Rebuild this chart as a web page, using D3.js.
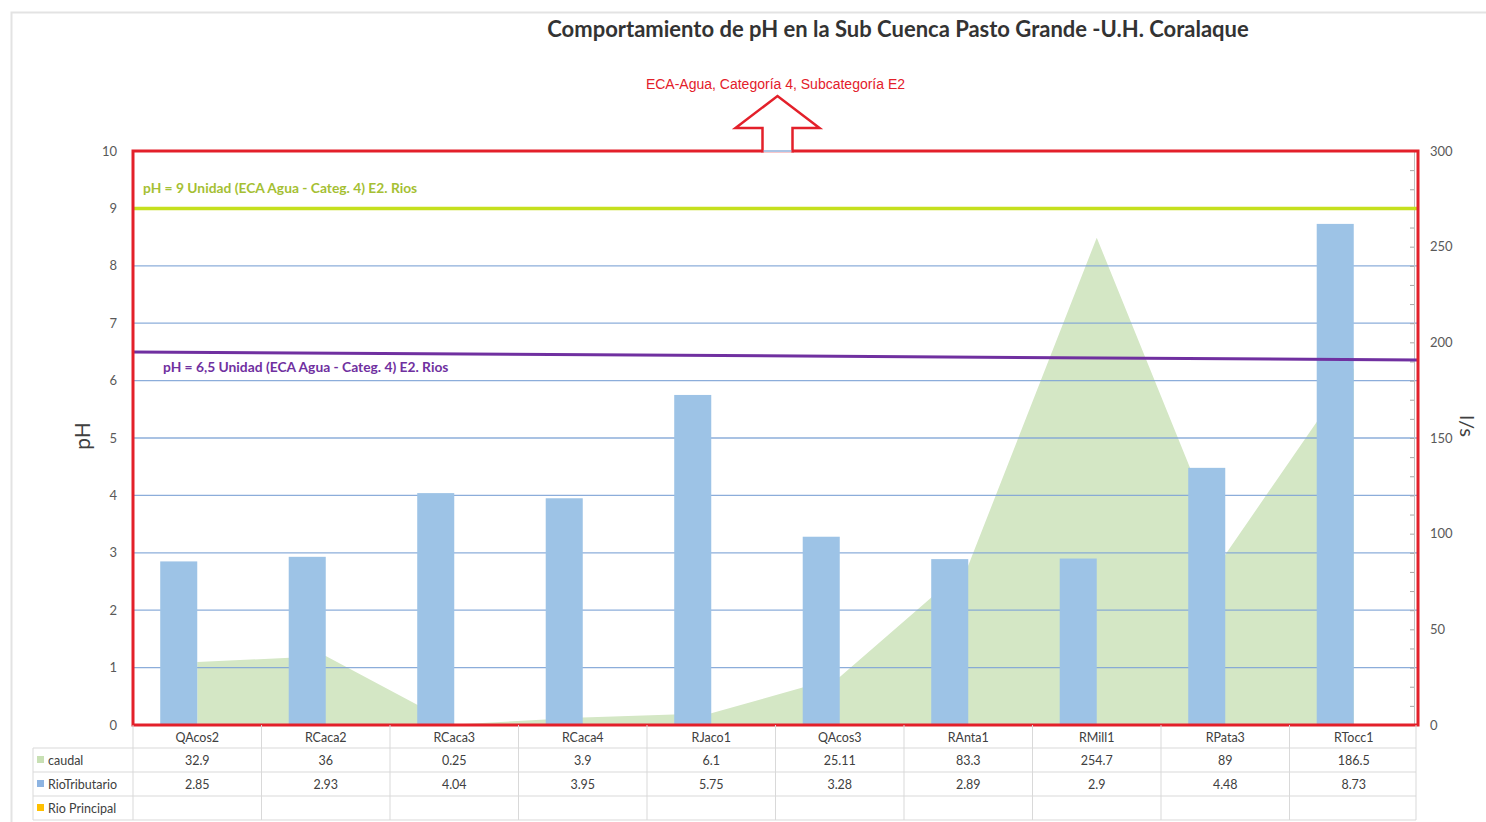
<!DOCTYPE html>
<meta charset="utf-8">
<head>
    <title>pH Sub Cuenca Pasto Grande</title>
    <script src="https://d3js.org/d3.v7.min.js"></script>
    <style>
        body { margin: 0; background: #ffffff; }
        text { font-family: Lato, "Open Sans", sans-serif; }
    </style>
</head>
<body>
<div id="my_dataviz"></div>
<script>

// data
var categories = ["QAcos2", "RCaca2", "RCaca3", "RCaca4", "RJaco1", "QAcos3", "RAnta1", "RMill1", "RPata3", "RTocc1"];
var caudal = [32.9, 36, 0.25, 3.9, 6.1, 25.11, 83.3, 254.7, 89, 186.5];
var rioTributario = [2.85, 2.93, 4.04, 3.95, 5.75, 3.28, 2.89, 2.9, 4.48, 8.73];
var rioPrincipal = [null, null, null, null, null, null, null, null, null, null];
var barSeries = ["RioTributario", "Rio Principal"];
var phTicks = [0, 1, 2, 3, 4, 5, 6, 7, 8, 9, 10];
var lsTicks = [0, 50, 100, 150, 200, 250, 300];
var lsMinorTicks = d3.range(0, 301, 10);
var ecaMax = [9, 9];       // upper limit line, start / end
var ecaMin = [6.5, 6.36];  // lower limit line, drawn slightly tilted in the original

// set dimensions and margins of the graph
var margin = {top: 151, right: 68, bottom: 97, left: 133},
    width = 1486 - margin.left - margin.right,
    height = 822 - margin.top - margin.bottom;

var svg0 = d3.select("#my_dataviz")
    .append("svg")
    .attr("width", 1486)
    .attr("height", 822);

// outer frame of the pasted chart
svg0.append("path")
    .attr("d", "M11.5,900 V12.5 H1600")
    .attr("fill", "none")
    .attr("stroke", "#e3e3e3")
    .attr("stroke-width", 2);

var svg = svg0.append("g")
    .attr("transform", "translate(" + margin.left + "," + margin.top + ")");

// scales
var x = d3.scaleBand().domain(categories).range([0, width]);
var xSub = d3.scaleBand().domain(barSeries).range([0, x.bandwidth()]).paddingOuter(0.735);
var y = d3.scaleLinear().domain([0, 10]).range([height, 0]);
var yR = d3.scaleLinear().domain([0, 300]).range([height, 0]);

// caudal area (secondary axis)
var caudalData = categories.map(function(c, i) { return {cat: c, v: caudal[i]}; });
svg.append("path")
    .datum(caudalData)
    .attr("fill", "#d4e7c5")
    .attr("d", d3.area()
        .x(function(d) { return x(d.cat) + x.bandwidth() / 2; })
        .y0(yR(0))
        .y1(function(d) { return yR(d.v); }));

// gridlines
svg.append("g")
    .selectAll("line")
    .data(phTicks.slice(1))
    .enter().append("line")
    .attr("x1", 0).attr("x2", width)
    .attr("y1", function(d) { return y(d); })
    .attr("y2", function(d) { return y(d); })
    .attr("stroke", "#7fa4d6")
    .attr("stroke-opacity", 0.9)
    .attr("stroke-width", 1.3);

// bars
var barData = categories.map(function(c, i) {
    return [{cat: c, s: "RioTributario", v: rioTributario[i]}, {cat: c, s: "Rio Principal", v: rioPrincipal[i]}];
}).flat().filter(function(d) { return d.v != null; });
svg.append("g")
    .selectAll("rect")
    .data(barData)
    .enter().append("rect")
    .attr("x", function(d) { return x(d.cat) + xSub(d.s); })
    .attr("width", xSub.bandwidth())
    .attr("y", function(d) { return y(d.v); })
    .attr("height", function(d) { return height - y(d.v); })
    .attr("fill", function(d) { return d.s == "RioTributario" ? "#9dc3e6" : "#ffc000"; });

// left axis
var yAxis = svg.append("g")
    .call(d3.axisLeft(y).tickValues(phTicks).tickSize(0).tickPadding(16));
yAxis.select(".domain").remove();
yAxis.selectAll("text").style("font-size", "13px").attr("fill", "#595959");

svg.append("text")
    .attr("text-anchor", "middle")
    .attr("transform", "rotate(-90)")
    .attr("x", -(height / 2 - 2))
    .attr("y", -43)
    .text("pH")
    .style("font-size", "21px")
    .attr("fill", "#404040");

// right axis
var rAxisLine = svg.append("g")
    .attr("transform", "translate(" + (width - 4) + ",0)")
    .call(d3.axisRight(yR).tickValues(lsMinorTicks).tickSizeInner(-4).tickSizeOuter(0).tickFormat(""));
rAxisLine.select(".domain").attr("stroke", "#bfbfbf");
rAxisLine.selectAll(".tick line").attr("stroke", "#a6a6a6");

var rAxis = svg.append("g")
    .attr("transform", "translate(" + width + ",0)")
    .call(d3.axisRight(yR).tickValues(lsTicks).tickSize(0).tickPadding(12));
rAxis.select(".domain").remove();
rAxis.selectAll("text").style("font-size", "13px").attr("fill", "#595959");

svg.append("text")
    .attr("text-anchor", "middle")
    .attr("transform", "rotate(90)")
    .attr("x", height / 2 - 12)
    .attr("y", -(width + 42))
    .text("l/s")
    .style("font-size", "20px")
    .attr("fill", "#404040");

// ECA limit lines
svg.append("line")
    .attr("x1", 0).attr("x2", width)
    .attr("y1", y(ecaMax[0])).attr("y2", y(ecaMax[1]))
    .attr("stroke", "#c5e01e")
    .attr("stroke-width", 3.5);
svg.append("line")
    .attr("x1", 0).attr("x2", width)
    .attr("y1", y(ecaMin[0])).attr("y2", y(ecaMin[1]))
    .attr("stroke", "#7030a0")
    .attr("stroke-width", 3);

svg.append("text")
    .attr("x", 10).attr("y", y(ecaMax[0]) - 15)
    .text("pH = 9 Unidad (ECA Agua - Categ. 4) E2. Rios")
    .style("font-size", "13.8px").style("font-weight", "bold")
    .attr("fill", "#a5bf33");
svg.append("text")
    .attr("x", 30).attr("y", y(ecaMin[0]) + 20)
    .text("pH = 6,5 Unidad (ECA Agua - Categ. 4) E2. Rios")
    .style("font-size", "13.8px").style("font-weight", "bold")
    .attr("fill", "#7030a0");

// red frame round the plot
svg.append("rect")
    .attr("x", 0).attr("y", 0)
    .attr("width", width).attr("height", height)
    .attr("fill", "none")
    .attr("stroke", "#e3202a")
    .attr("stroke-width", 3);

// arrow pointing to the ECA note
var ax = width / 2 + 2;
svg.append("path")
    .attr("d", "M" + (ax - 15) + ",1.5 V-23 H" + (ax - 42) + " L" + ax + ",-55 L" + (ax + 42) + ",-23 H" + (ax + 15) + " V1.5")
    .attr("fill", "#ffffff")
    .attr("stroke", "#e3202a")
    .attr("stroke-width", 2.5)
    .attr("stroke-linejoin", "miter");
svg.append("line")
    .attr("x1", ax - 14).attr("x2", ax + 14)
    .attr("y1", 0).attr("y2", 0)
    .attr("stroke", "#7fa4d6").attr("stroke-width", 1.3);

svg.append("text")
    .attr("text-anchor", "middle")
    .attr("x", ax - 2).attr("y", -62)
    .text("ECA-Agua,  Categoría 4, Subcategoría E2")
    .style("font-size", "14px")
    .style("font-family", "'Liberation Sans', Arial, sans-serif")
    .attr("fill", "#e3202a");

// title
svg0.append("text")
    .attr("text-anchor", "middle")
    .attr("x", 898).attr("y", 37)
    .text("Comportamiento de pH en la Sub Cuenca Pasto Grande -U.H. Coralaque")
    .style("font-size", "22px").style("font-weight", "bold")
    .attr("fill", "#333333");

// data table under the plot
var rowH = 24, headH = 23;
var table = svg.append("g").attr("transform", "translate(0," + height + ")");
var legendLeft = -100;
var rows = [
    {name: "caudal", color: "#c8e0b4", vals: caudal},
    {name: "RioTributario", color: "#8db4e2", vals: rioTributario},
    {name: "Rio Principal", color: "#ffc000", vals: rioPrincipal}
];
var tableW = width - 2;
var gridColor = "#d9d9d9";

// horizontal rules
[headH, headH + rowH, headH + 2 * rowH, headH + 3 * rowH].forEach(function(yy) {
    table.append("line")
        .attr("x1", legendLeft).attr("x2", tableW)
        .attr("y1", yy).attr("y2", yy)
        .attr("stroke", gridColor);
});
// vertical rules
categories.forEach(function(c) {
    table.append("line")
        .attr("x1", x(c)).attr("x2", x(c))
        .attr("y1", 0).attr("y2", headH + 3 * rowH)
        .attr("stroke", gridColor);
});
table.append("line")
    .attr("x1", tableW).attr("x2", tableW)
    .attr("y1", 0).attr("y2", headH + 3 * rowH)
    .attr("stroke", gridColor);
table.append("line")
    .attr("x1", legendLeft).attr("x2", legendLeft)
    .attr("y1", headH).attr("y2", headH + 3 * rowH)
    .attr("stroke", gridColor);

// category header
table.selectAll(".cat")
    .data(categories)
    .enter().append("text")
    .attr("class", "cat")
    .attr("text-anchor", "middle")
    .attr("x", function(d) { return x(d) + x.bandwidth() / 2; })
    .attr("y", headH / 2 + 5)
    .text(function(d) { return d; })
    .style("font-size", "12.5px")
    .attr("fill", "#404040");

rows.forEach(function(r, ri) {
    var cy = headH + ri * rowH + rowH / 2;
    table.append("rect")
        .attr("x", legendLeft + 4).attr("y", cy - 4)
        .attr("width", 7).attr("height", 7)
        .attr("fill", r.color);
    table.append("text")
        .attr("x", legendLeft + 15).attr("y", cy + 4.5)
        .text(r.name)
        .style("font-size", "12.5px")
        .attr("fill", "#404040");
    table.selectAll(".v" + ri)
        .data(categories)
        .enter().append("text")
        .attr("text-anchor", "middle")
        .attr("x", function(d) { return x(d) + x.bandwidth() / 2; })
        .attr("y", cy + 4.5)
        .text(function(d, i) { return r.vals[i] == null ? "" : r.vals[i]; })
        .style("font-size", "12.5px")
        .attr("fill", "#404040");
});

</script>
</body>
</html>
